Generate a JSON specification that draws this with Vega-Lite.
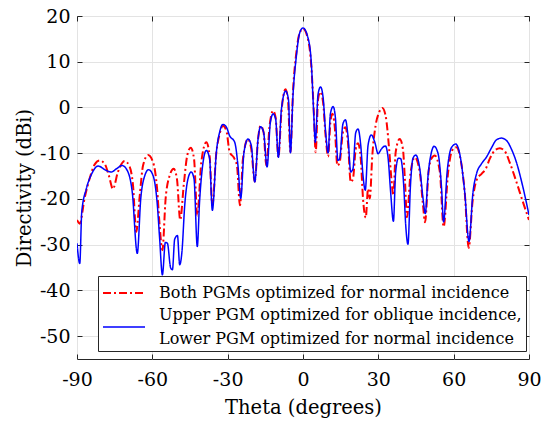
{
  "$schema": "https://vega.github.io/schema/vega-lite/v6.json",
  "width": 452,
  "height": 343,
  "autosize": {"type": "none"},
  "padding": {"left": 77, "top": 16, "right": 13, "bottom": 65},
  "background": "white",
  "config": {
    "font": "DejaVu Serif",
    "view": {"stroke": "#262626", "strokeWidth": 1},
    "axis": {
      "domain": false,
      "gridColor": "#e3e3e3",
      "gridOpacity": 1,
      "gridWidth": 1,
      "tickColor": "#262626",
      "tickSize": -5,
      "labelFlush": false,
      "labelFont": "DejaVu Serif",
      "labelFontSize": 19,
      "labelColor": "#000000",
      "titleFont": "DejaVu Serif",
      "titleFontSize": 19.5,
      "titleFontWeight": "normal",
      "titleColor": "#000000"
    }
  },
  "datasets": {
    "red": [
      {"theta": -90, "dB": -24.6, "s": "A"},
      {"theta": -88.9, "dB": -25.4, "s": "A"},
      {"theta": -87.0, "dB": -19.9, "s": "A"},
      {"theta": -85.0, "dB": -15.6, "s": "A"},
      {"theta": -83.0, "dB": -12.5, "s": "A"},
      {"theta": -81.0, "dB": -11.6, "s": "A"},
      {"theta": -79.0, "dB": -12.3, "s": "A"},
      {"theta": -77.3, "dB": -14.9, "s": "A"},
      {"theta": -75.7, "dB": -17.8, "s": "A"},
      {"theta": -73.7, "dB": -14.1, "s": "A"},
      {"theta": -71.0, "dB": -11.7, "s": "A"},
      {"theta": -69.0, "dB": -13.0, "s": "A"},
      {"theta": -67.7, "dB": -17.0, "s": "A"},
      {"theta": -66.4, "dB": -27.2, "s": "A"},
      {"theta": -65.0, "dB": -19.2, "s": "A"},
      {"theta": -63.7, "dB": -12.7, "s": "A"},
      {"theta": -61.7, "dB": -10.4, "s": "A"},
      {"theta": -59.7, "dB": -12.0, "s": "A"},
      {"theta": -58.1, "dB": -17.8, "s": "A"},
      {"theta": -57.1, "dB": -25.7, "s": "A"},
      {"theta": -56.0, "dB": -31.2, "s": "A"},
      {"theta": -54.7, "dB": -19.9, "s": "A"},
      {"theta": -53.1, "dB": -14.9, "s": "A"},
      {"theta": -51.5, "dB": -13.4, "s": "A"},
      {"theta": -50.2, "dB": -15.6, "s": "A"},
      {"theta": -48.9, "dB": -24.6, "s": "A"},
      {"theta": -47.5, "dB": -17.0, "s": "A"},
      {"theta": -46.1, "dB": -10.5, "s": "A"},
      {"theta": -44.7, "dB": -8.8, "s": "A"},
      {"theta": -43.4, "dB": -11.2, "s": "A"},
      {"theta": -42.1, "dB": -23.6, "s": "A"},
      {"theta": -40.5, "dB": -12.0, "s": "A"},
      {"theta": -38.5, "dB": -7.6, "s": "A"},
      {"theta": -37.2, "dB": -10.5, "s": "A"},
      {"theta": -36.1, "dB": -21.4, "s": "A"},
      {"theta": -34.5, "dB": -9.8, "s": "A"},
      {"theta": -33.2, "dB": -5.8, "s": "A"},
      {"theta": -31.9, "dB": -4.0, "s": "A"},
      {"theta": -30.5, "dB": -5.1, "s": "A"},
      {"theta": -29.2, "dB": -9.8, "s": "A"},
      {"theta": -27.6, "dB": -10.9, "s": "A"},
      {"theta": -26.3, "dB": -12.7, "s": "A"},
      {"theta": -25.1, "dB": -21.4, "s": "A"},
      {"theta": -23.9, "dB": -11.2, "s": "A"},
      {"theta": -21.9, "dB": -6.9, "s": "A"},
      {"theta": -20.6, "dB": -9.1, "s": "A"},
      {"theta": -19.2, "dB": -16.2, "s": "A"},
      {"theta": -17.9, "dB": -6.9, "s": "A"},
      {"theta": -16.9, "dB": -4.0, "s": "A"},
      {"theta": -15.7, "dB": -5.4, "s": "A"},
      {"theta": -14.6, "dB": -12.7, "s": "A"},
      {"theta": -13.3, "dB": -4.0, "s": "A"},
      {"theta": -11.9, "dB": -0.7, "s": "A"},
      {"theta": -10.9, "dB": -2.2, "s": "A"},
      {"theta": -9.8, "dB": -10.9, "s": "A"},
      {"theta": -8.6, "dB": -1.1, "s": "A"},
      {"theta": -7.0, "dB": 4.0, "s": "A"},
      {"theta": -6.0, "dB": 1.8, "s": "A"},
      {"theta": -5.0, "dB": -9.8, "s": "A"},
      {"theta": -4.0, "dB": 3.3, "s": "A"},
      {"theta": -2.65, "dB": 12.0, "s": "A"},
      {"theta": -1.33, "dB": 16.3, "s": "A"},
      {"theta": 0, "dB": 17.2, "s": "A"},
      {"theta": 2.0, "dB": 14.9, "s": "A"},
      {"theta": 3.3, "dB": 9.1, "s": "A"},
      {"theta": 4.25, "dB": -0.4, "s": "A"},
      {"theta": 5.05, "dB": -9.8, "s": "A"},
      {"theta": 6.0, "dB": 1.8, "s": "A"},
      {"theta": 6.9, "dB": 3.4, "s": "A"},
      {"theta": 8.0, "dB": 1.1, "s": "A"},
      {"theta": 9.0, "dB": -6.2, "s": "A"},
      {"theta": 10.0, "dB": -10.7, "s": "A"},
      {"theta": 10.9, "dB": -3.3, "s": "A"},
      {"theta": 11.7, "dB": -1.4, "s": "A"},
      {"theta": 12.6, "dB": -4.0, "s": "A"},
      {"theta": 13.7, "dB": -12.7, "s": "A"},
      {"theta": 14.6, "dB": -12.0, "s": "A"},
      {"theta": 15.9, "dB": -5.4, "s": "A"},
      {"theta": 16.9, "dB": -4.3, "s": "A"},
      {"theta": 17.9, "dB": -7.6, "s": "A"},
      {"theta": 19.0, "dB": -16.3, "s": "A"},
      {"theta": 19.9, "dB": -15.6, "s": "A"},
      {"theta": 21.0, "dB": -9.1, "s": "A"},
      {"theta": 21.9, "dB": -7.8, "s": "A"},
      {"theta": 23.0, "dB": -11.2, "s": "A"},
      {"theta": 23.9, "dB": -19.9, "s": "A"},
      {"theta": 25.0, "dB": -24.1, "s": "A"},
      {"theta": 25.9, "dB": -17.8, "s": "A"},
      {"theta": 26.6, "dB": -19.9, "s": "A"},
      {"theta": 27.6, "dB": -10.5, "s": "A"},
      {"theta": 28.9, "dB": -4.0, "s": "A"},
      {"theta": 30.3, "dB": -1.1, "s": "A"},
      {"theta": 31.6, "dB": -0.1, "s": "A"},
      {"theta": 32.9, "dB": -1.8, "s": "A"},
      {"theta": 34.3, "dB": -9.1, "s": "A"},
      {"theta": 35.2, "dB": -15.6, "s": "A"},
      {"theta": 36.0, "dB": -19.2, "s": "A"},
      {"theta": 36.9, "dB": -9.8, "s": "A"},
      {"theta": 38.5, "dB": -6.9, "s": "A"},
      {"theta": 39.8, "dB": -9.1, "s": "A"},
      {"theta": 40.6, "dB": -16.0, "s": "A"},
      {"theta": 41.4, "dB": -24.0, "s": "A"},
      {"theta": 42.8, "dB": -14.5, "s": "A"},
      {"theta": 44.5, "dB": -10.9, "s": "A"},
      {"theta": 46.5, "dB": -14.1, "s": "A"},
      {"theta": 47.8, "dB": -21.4, "s": "A"},
      {"theta": 48.6, "dB": -25.1, "s": "A"},
      {"theta": 50.0, "dB": -14.1, "s": "A"},
      {"theta": 51.1, "dB": -11.2, "s": "A"},
      {"theta": 52.5, "dB": -10.5, "s": "A"},
      {"theta": 54.5, "dB": -14.1, "s": "A"},
      {"theta": 56.0, "dB": -26.1, "s": "A"},
      {"theta": 57.8, "dB": -14.1, "s": "A"},
      {"theta": 59.4, "dB": -9.4, "s": "A"},
      {"theta": 61.1, "dB": -8.7, "s": "A"},
      {"theta": 62.7, "dB": -11.2, "s": "A"},
      {"theta": 64.4, "dB": -18.5, "s": "A"},
      {"theta": 66.0, "dB": -30.7, "s": "A"},
      {"theta": 67.5, "dB": -20.7, "s": "A"},
      {"theta": 69.1, "dB": -15.9, "s": "A"},
      {"theta": 71.1, "dB": -14.5, "s": "A"},
      {"theta": 72.8, "dB": -13.4, "s": "A"},
      {"theta": 74.4, "dB": -11.2, "s": "A"},
      {"theta": 76.4, "dB": -9.4, "s": "A"},
      {"theta": 78.4, "dB": -8.9, "s": "A"},
      {"theta": 80.4, "dB": -9.6, "s": "A"},
      {"theta": 82.3, "dB": -12.0, "s": "A"},
      {"theta": 85.0, "dB": -16.3, "s": "A"},
      {"theta": 87.6, "dB": -20.7, "s": "A"},
      {"theta": 90, "dB": -24.6, "s": "A"}
    ],
    "blue": [
      {"theta": -90, "dB": -29.7, "s": "B"},
      {"theta": -88.9, "dB": -34.1, "s": "B"},
      {"theta": -88.1, "dB": -22.8, "s": "B"},
      {"theta": -86.3, "dB": -17.8, "s": "B"},
      {"theta": -84.3, "dB": -14.7, "s": "B"},
      {"theta": -81.6, "dB": -12.8, "s": "B"},
      {"theta": -78.3, "dB": -13.8, "s": "B"},
      {"theta": -76.3, "dB": -14.1, "s": "B"},
      {"theta": -74.3, "dB": -13.4, "s": "B"},
      {"theta": -72.0, "dB": -12.7, "s": "B"},
      {"theta": -69.7, "dB": -14.1, "s": "B"},
      {"theta": -68.0, "dB": -18.5, "s": "B"},
      {"theta": -66.0, "dB": -31.9, "s": "B"},
      {"theta": -64.6, "dB": -19.9, "s": "B"},
      {"theta": -63.0, "dB": -14.9, "s": "B"},
      {"theta": -61.5, "dB": -13.6, "s": "B"},
      {"theta": -59.7, "dB": -14.9, "s": "B"},
      {"theta": -58.0, "dB": -21.4, "s": "B"},
      {"theta": -57.1, "dB": -28.6, "s": "B"},
      {"theta": -56.0, "dB": -36.6, "s": "B"},
      {"theta": -54.8, "dB": -29.5, "s": "B"},
      {"theta": -54.0, "dB": -29.7, "s": "B"},
      {"theta": -52.7, "dB": -35.1, "s": "B"},
      {"theta": -52.0, "dB": -35.5, "s": "B"},
      {"theta": -51.1, "dB": -28.8, "s": "B"},
      {"theta": -50.0, "dB": -28.0, "s": "B"},
      {"theta": -49.1, "dB": -34.4, "s": "B"},
      {"theta": -48.2, "dB": -31.5, "s": "B"},
      {"theta": -47.1, "dB": -21.4, "s": "B"},
      {"theta": -45.8, "dB": -15.6, "s": "B"},
      {"theta": -44.5, "dB": -14.1, "s": "B"},
      {"theta": -43.4, "dB": -15.6, "s": "B"},
      {"theta": -42.1, "dB": -30.4, "s": "B"},
      {"theta": -41.2, "dB": -20.7, "s": "B"},
      {"theta": -39.8, "dB": -12.0, "s": "B"},
      {"theta": -38.5, "dB": -9.4, "s": "B"},
      {"theta": -37.2, "dB": -11.2, "s": "B"},
      {"theta": -36.1, "dB": -22.5, "s": "B"},
      {"theta": -34.5, "dB": -9.8, "s": "B"},
      {"theta": -33.2, "dB": -5.4, "s": "B"},
      {"theta": -31.9, "dB": -3.7, "s": "B"},
      {"theta": -30.5, "dB": -4.3, "s": "B"},
      {"theta": -29.2, "dB": -6.2, "s": "B"},
      {"theta": -27.2, "dB": -7.6, "s": "B"},
      {"theta": -25.9, "dB": -12.7, "s": "B"},
      {"theta": -24.8, "dB": -19.9, "s": "B"},
      {"theta": -23.5, "dB": -9.8, "s": "B"},
      {"theta": -21.9, "dB": -6.9, "s": "B"},
      {"theta": -20.6, "dB": -8.3, "s": "B"},
      {"theta": -19.2, "dB": -16.3, "s": "B"},
      {"theta": -17.9, "dB": -6.9, "s": "B"},
      {"theta": -16.9, "dB": -4.2, "s": "B"},
      {"theta": -15.7, "dB": -5.4, "s": "B"},
      {"theta": -14.3, "dB": -13.0, "s": "B"},
      {"theta": -13.0, "dB": -3.3, "s": "B"},
      {"theta": -11.9, "dB": -1.4, "s": "B"},
      {"theta": -10.9, "dB": -2.5, "s": "B"},
      {"theta": -9.8, "dB": -10.9, "s": "B"},
      {"theta": -8.6, "dB": -0.4, "s": "B"},
      {"theta": -6.9, "dB": 3.6, "s": "B"},
      {"theta": -5.8, "dB": 1.8, "s": "B"},
      {"theta": -5.0, "dB": -9.9, "s": "B"},
      {"theta": -4.0, "dB": 2.5, "s": "B"},
      {"theta": -2.65, "dB": 11.2, "s": "B"},
      {"theta": -1.33, "dB": 16.3, "s": "B"},
      {"theta": 0, "dB": 17.4, "s": "B"},
      {"theta": 2.0, "dB": 15.2, "s": "B"},
      {"theta": 3.3, "dB": 9.8, "s": "B"},
      {"theta": 4.25, "dB": -1.1, "s": "B"},
      {"theta": 4.9, "dB": -7.6, "s": "B"},
      {"theta": 6.0, "dB": 2.9, "s": "B"},
      {"theta": 7.0, "dB": 4.5, "s": "B"},
      {"theta": 8.0, "dB": 2.2, "s": "B"},
      {"theta": 9.0, "dB": -5.4, "s": "B"},
      {"theta": 10.0, "dB": -9.9, "s": "B"},
      {"theta": 10.9, "dB": -1.4, "s": "B"},
      {"theta": 12.0, "dB": 0.2, "s": "B"},
      {"theta": 12.9, "dB": -2.2, "s": "B"},
      {"theta": 13.9, "dB": -11.6, "s": "B"},
      {"theta": 14.6, "dB": -11.2, "s": "B"},
      {"theta": 15.9, "dB": -3.6, "s": "B"},
      {"theta": 16.9, "dB": -2.7, "s": "B"},
      {"theta": 17.9, "dB": -6.2, "s": "B"},
      {"theta": 19.0, "dB": -14.1, "s": "B"},
      {"theta": 19.9, "dB": -13.4, "s": "B"},
      {"theta": 21.0, "dB": -5.5, "s": "B"},
      {"theta": 21.9, "dB": -4.7, "s": "B"},
      {"theta": 23.0, "dB": -8.3, "s": "B"},
      {"theta": 23.9, "dB": -14.9, "s": "B"},
      {"theta": 24.8, "dB": -18.1, "s": "B"},
      {"theta": 25.9, "dB": -8.3, "s": "B"},
      {"theta": 27.2, "dB": -6.0, "s": "B"},
      {"theta": 28.6, "dB": -7.6, "s": "B"},
      {"theta": 29.9, "dB": -10.1, "s": "B"},
      {"theta": 31.2, "dB": -9.1, "s": "B"},
      {"theta": 32.8, "dB": -8.4, "s": "B"},
      {"theta": 33.9, "dB": -11.1, "s": "B"},
      {"theta": 34.9, "dB": -18.5, "s": "B"},
      {"theta": 36.0, "dB": -24.9, "s": "B"},
      {"theta": 36.9, "dB": -14.1, "s": "B"},
      {"theta": 38.0, "dB": -11.1, "s": "B"},
      {"theta": 38.9, "dB": -11.2, "s": "B"},
      {"theta": 40.1, "dB": -17.0, "s": "B"},
      {"theta": 40.9, "dB": -25.7, "s": "B"},
      {"theta": 41.8, "dB": -29.9, "s": "B"},
      {"theta": 42.8, "dB": -17.0, "s": "B"},
      {"theta": 43.8, "dB": -11.1, "s": "B"},
      {"theta": 44.9, "dB": -10.4, "s": "B"},
      {"theta": 46.5, "dB": -13.4, "s": "B"},
      {"theta": 47.8, "dB": -19.9, "s": "B"},
      {"theta": 48.7, "dB": -23.2, "s": "B"},
      {"theta": 49.8, "dB": -14.9, "s": "B"},
      {"theta": 51.1, "dB": -9.9, "s": "B"},
      {"theta": 52.2, "dB": -8.5, "s": "B"},
      {"theta": 53.8, "dB": -10.1, "s": "B"},
      {"theta": 55.1, "dB": -17.0, "s": "B"},
      {"theta": 56.0, "dB": -25.0, "s": "B"},
      {"theta": 57.4, "dB": -14.1, "s": "B"},
      {"theta": 59.1, "dB": -8.8, "s": "B"},
      {"theta": 60.8, "dB": -8.0, "s": "B"},
      {"theta": 62.4, "dB": -10.1, "s": "B"},
      {"theta": 64.4, "dB": -18.5, "s": "B"},
      {"theta": 66.1, "dB": -29.3, "s": "B"},
      {"theta": 67.7, "dB": -18.5, "s": "B"},
      {"theta": 69.1, "dB": -14.5, "s": "B"},
      {"theta": 71.1, "dB": -12.3, "s": "B"},
      {"theta": 73.0, "dB": -10.9, "s": "B"},
      {"theta": 75.0, "dB": -8.9, "s": "B"},
      {"theta": 77.0, "dB": -7.1, "s": "B"},
      {"theta": 79.0, "dB": -6.7, "s": "B"},
      {"theta": 81.0, "dB": -7.2, "s": "B"},
      {"theta": 83.0, "dB": -9.1, "s": "B"},
      {"theta": 85.0, "dB": -12.0, "s": "B"},
      {"theta": 87.4, "dB": -17.0, "s": "B"},
      {"theta": 90, "dB": -23.5, "s": "B"}
    ]
  },
  "layer": [
    {
      "data": {"name": "red"},
      "mark": {"type": "line", "interpolate": "monotone", "clip": true},
      "encoding": {
        "x": {
          "field": "theta", "type": "quantitative",
          "scale": {"domain": [-90, 90], "nice": false},
          "axis": {"orient": "bottom", "values": [-90, -60, -30, 0, 30, 60, 90], "labelExpr": "toString(datum.value)", "title": "Theta (degrees)", "labelPadding": 16, "titlePadding": 9, "grid": true}
        },
        "y": {
          "field": "dB", "type": "quantitative",
          "scale": {"domain": [-55, 20], "nice": false, "zero": false},
          "axis": {"orient": "left", "values": [-50, -40, -30, -20, -10, 0, 10, 20], "labelExpr": "toString(datum.value)", "title": "Directivity (dBi)", "labelPadding": 12, "titlePadding": 5, "grid": true}
        },
        "color": {
          "field": "s", "type": "nominal",
          "scale": {"domain": ["A", "B"], "range": ["#ff0000", "#0000ff"]},
          "legend": {
            "orient": "none", "legendX": 21, "legendY": 260, "title": null,
            "symbolType": "M-1.75,0H1.75", "symbolSize": 576, "symbolOffset": 9,
            "labelFont": "DejaVu Serif", "labelFontSize": 16, "labelColor": "#000000",
            "labelLimit": 600, "labelOffset": 22,
            "fillColor": "white", "strokeColor": "#262626", "padding": 4, "rowPadding": 6,
            "labelExpr": "datum.label == 'A' ? 'Both PGMs optimized for normal incidence' : ['Upper PGM optimized for oblique incidence,', 'Lower PGM optimized for normal incidence']",
            "encode": {
              "labels": {
                "update": {
                  "dy": {"signal": "datum.value == 'B' ? -12 : 0"},
                  "lineHeight": {"value": 24}
                }
              }
            }
          }
        },
        "strokeDash": {
          "field": "s", "type": "nominal",
          "scale": {"domain": ["A", "B"], "range": [[8, 3, 2, 3], [1, 0]]}
        },
        "strokeWidth": {
          "field": "s", "type": "nominal",
          "scale": {"domain": ["A", "B"], "range": [2, 1.5]}
        }
      }
    },
    {
      "data": {"name": "blue"},
      "mark": {"type": "line", "interpolate": "monotone", "clip": true},
      "encoding": {
        "x": {
          "field": "theta", "type": "quantitative",
          "axis": {"orient": "top", "values": [-90, -60, -30, 0, 30, 60, 90], "labels": false, "title": null, "grid": false}
        },
        "y": {
          "field": "dB", "type": "quantitative",
          "axis": {"orient": "right", "values": [-50, -40, -30, -20, -10, 0, 10, 20], "labels": false, "title": null, "grid": false}
        },
        "color": {"field": "s", "type": "nominal"},
        "strokeDash": {"field": "s", "type": "nominal"},
        "strokeWidth": {"field": "s", "type": "nominal"}
      }
    }
  ]
}
